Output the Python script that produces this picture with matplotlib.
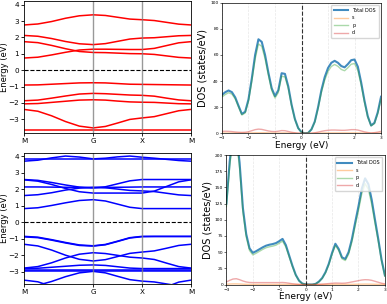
import numpy as np
import matplotlib.pyplot as plt

# ---- band structure data (eV), k-path M-G-X-M ----
k_labels = ['M', 'G', 'X', 'M']
seg_lengths = [np.sqrt(0.5), 0.5, 0.5]
seg_fracs = [[0, .2, .4, .6, .8, 1.0], [.25, .5, .75, 1.0], [.25, .5, .75, 1.0]]

red_bands = [
    [2.76, 2.82, 2.97, 3.17, 3.32, 3.38, 3.34, 3.23, 3.12, 3.08, 3.03, 2.92, 2.81, 2.76],
    [2.12, 2.07, 1.93, 1.75, 1.61, 1.56, 1.62, 1.76, 1.90, 1.96, 1.98, 2.04, 2.10, 2.12],
    [1.74, 1.68, 1.51, 1.31, 1.14, 1.08, 1.07, 1.04, 1.01, 1.00, 0.96, 0.87, 0.78, 0.74],
    [0.74, 0.79, 0.93, 1.09, 1.23, 1.28, 1.28, 1.27, 1.26, 1.26, 1.33, 1.50, 1.67, 1.74],
    [-0.91, -0.90, -0.86, -0.82, -0.78, -0.77, -0.78, -0.82, -0.86, -0.87, -0.88, -0.89, -0.90, -0.91],
    [-1.87, -1.83, -1.71, -1.58, -1.46, -1.42, -1.44, -1.48, -1.52, -1.54, -1.59, -1.71, -1.82, -1.87],
    [-2.06, -2.04, -1.97, -1.90, -1.83, -1.81, -1.83, -1.89, -1.94, -1.96, -1.97, -2.01, -2.05, -2.06],
    [-2.40, -2.51, -2.79, -3.14, -3.42, -3.53, -3.44, -3.23, -3.01, -2.92, -2.84, -2.66, -2.48, -2.40],
    [-3.65] * 14,
]

blue_bands = [
    [3.84] * 14,
    [3.70, 3.76, 3.90, 4.01, 3.95, 3.84, 3.88, 3.96, 4.01, 3.94, 3.88, 3.81, 3.74, 3.70],
    [2.59, 2.54, 2.41, 2.26, 2.13, 2.08, 2.15, 2.33, 2.51, 2.59, 2.59, 2.59, 2.59, 2.59],
    [2.57, 2.49, 2.29, 2.05, 1.85, 1.77, 1.77, 1.77, 1.77, 1.77, 1.89, 2.17, 2.45, 2.57],
    [2.14, 2.14, 2.13, 2.12, 2.11, 2.10, 2.11, 2.12, 2.13, 2.14, 2.14, 2.14, 2.14, 2.14],
    [1.62, 1.67, 1.79, 1.95, 2.07, 2.12, 2.09, 2.01, 1.93, 1.90, 1.86, 1.76, 1.66, 1.62],
    [0.83, 0.88, 1.02, 1.18, 1.32, 1.37, 1.29, 1.10, 0.91, 0.83, 0.83, 0.83, 0.83, 0.83],
    [-0.85, -0.90, -1.05, -1.22, -1.37, -1.42, -1.34, -1.14, -0.93, -0.85, -0.85, -0.85, -0.85, -0.85],
    [-0.88, -0.93, -1.08, -1.25, -1.40, -1.44, -1.36, -1.16, -0.95, -0.87, -0.86, -0.86, -0.86, -0.86],
    [-1.33, -1.43, -1.68, -1.99, -2.24, -2.34, -2.26, -2.07, -1.88, -1.80, -1.73, -1.57, -1.40, -1.33],
    [-2.77, -2.68, -2.45, -2.16, -1.93, -1.84, -1.89, -2.00, -2.11, -2.16, -2.25, -2.47, -2.68, -2.77],
    [-2.80, -2.78, -2.72, -2.66, -2.60, -2.58, -2.61, -2.69, -2.77, -2.80, -2.80, -2.80, -2.80, -2.80],
    [-2.87] * 14,
    [-2.95] * 14,
    [-3.90, -3.81, -3.58, -3.29, -3.06, -2.97, -3.06, -3.27, -3.47, -3.56, -3.61, -3.73, -3.85, -3.90],
    [-3.50, -3.60, -3.88, -4.22, -4.50, -4.60, -4.55, -4.45, -4.35, -4.30, -4.18, -3.90, -3.62, -3.50],
]

# ---- DOS data (states/eV) ----
energy = np.arange(-3.0, 3.0001, 0.125)

top_total = [29.5, 31.5, 32.8, 31.5, 27.5, 21.0, 14.8, 16.5, 26.0, 42.0, 60.0, 72.0, 70.0,
             60.0, 46.5, 34.5, 28.5, 33.0, 46.0, 45.5, 36.0, 22.0, 11.0, 4.0, 0.8, 0.0, 0.3,
             3.0, 9.0, 20.0, 33.0, 43.0, 50.0, 54.0, 55.5, 54.0, 51.5, 50.5, 53.0, 56.0, 56.5,
             51.0, 39.0, 25.0, 13.0, 6.0, 8.0, 16.0, 28.0]
top_s = [0.2, 0.2, 0.2, 0.2, 0.2, 0.1, 0.1, 0.1, 0.2, 0.3, 0.4, 0.4, 0.4, 0.4, 0.3, 0.2, 0.2,
         0.2, 0.3, 0.3, 0.2, 0.1, 0.1, 0.0, 0.0, 0.0, 0.0, 0.0, 0.1, 0.1, 0.2, 0.3, 0.3, 0.3,
         0.3, 0.3, 0.3, 0.3, 0.3, 0.3, 0.3, 0.3, 0.2, 0.2, 0.1, 0.0, 0.1, 0.1, 0.2]
top_p = [27.8, 29.7, 31.1, 30.0, 26.3, 20.1, 14.0, 15.6, 24.6, 39.7, 56.8, 68.4, 66.6, 57.2,
         44.4, 32.9, 27.0, 31.2, 43.6, 43.2, 34.4, 21.1, 10.5, 3.9, 0.8, 0.0, 0.3, 2.9, 8.5,
         19.0, 31.3, 40.7, 47.4, 51.2, 52.7, 51.3, 48.9, 47.9, 50.2, 52.9, 53.4, 48.2, 37.0,
         23.7, 12.3, 5.7, 7.4, 15.0, 26.3]
top_d = [1.5, 1.6, 1.5, 1.3, 1.0, 0.8, 0.7, 0.8, 1.2, 2.0, 2.8, 3.2, 3.0, 2.4, 1.8, 1.4, 1.3,
         1.6, 2.1, 2.0, 1.4, 0.8, 0.4, 0.1, 0.0, 0.0, 0.0, 0.1, 0.4, 0.9, 1.5, 2.0, 2.3, 2.5,
         2.5, 2.4, 2.3, 2.3, 2.5, 2.8, 2.8, 2.5, 1.8, 1.1, 0.6, 0.3, 0.5, 0.9, 1.5]

bot_total = [125, 190, 235, 235, 188, 118, 78, 56, 49, 51.5, 54.5, 57.5, 60, 61.5, 62.5, 64,
             67, 70.5, 61, 45, 29, 15, 6, 1.5, 0.3, 0.0, 0.0, 1.0, 4.5, 10, 19, 32, 49, 63,
             55, 42, 39.5, 50, 70, 96, 121, 148, 164, 155, 131, 100, 70, 38, 14]
bot_s = [0.5, 0.8, 1.0, 1.0, 0.8, 0.5, 0.3, 0.2, 0.2, 0.2, 0.2, 0.2, 0.2, 0.2, 0.2, 0.2, 0.2,
         0.3, 0.2, 0.2, 0.1, 0.1, 0.0, 0.0, 0.0, 0.0, 0.0, 0.0, 0.0, 0.1, 0.1, 0.1, 0.2, 0.3,
         0.2, 0.2, 0.2, 0.2, 0.3, 0.4, 0.5, 0.6, 0.7, 0.6, 0.5, 0.4, 0.3, 0.2, 0.1]
bot_p = [120.5, 182.7, 225.5, 225.0, 179.7, 112.0, 73.7, 52.6, 45.8, 48.3, 51.3, 54.3, 56.8,
         58.3, 59.3, 60.8, 63.8, 67.0, 58.0, 42.8, 27.7, 14.3, 5.8, 1.4, 0.3, 0.0, 0.0, 0.9,
         4.2, 9.3, 17.9, 30.4, 46.8, 60.4, 52.6, 39.8, 37.1, 46.8, 65.7, 90.6, 114.5, 140.4,
         155.8, 147.1, 124.0, 94.6, 66.2, 35.8, 12.9]
bot_d = [4.0, 6.5, 8.5, 9.0, 7.5, 5.5, 4.0, 3.2, 3.0, 3.0, 3.0, 3.0, 3.0, 3.0, 3.0, 3.0, 3.0,
         3.2, 2.8, 2.0, 1.2, 0.6, 0.2, 0.1, 0.0, 0.0, 0.0, 0.1, 0.3, 0.6, 1.0, 1.5, 2.0, 2.3,
         2.2, 2.0, 2.2, 3.0, 4.0, 5.0, 6.0, 7.0, 7.5, 7.3, 6.5, 5.0, 3.5, 2.0, 1.0]


def kpath():
    k = []
    start = 0.0
    for L, fr in zip(seg_lengths, seg_fracs):
        k += [start + f * L for f in fr]
        start += L
    return np.array(k)


k = kpath()
k_ticks = np.concatenate([[0], np.cumsum(seg_lengths)])


def draw_bands(ax, bands, color, ylim):
    for b in bands:
        ax.plot(k, b, color=color, lw=1.1)
    ax.axhline(0, color='k', ls='--', lw=0.8)
    for x in k_ticks[1:-1]:
        ax.axvline(x, color='gray', lw=1.0, alpha=0.8)
    ax.set_xticks(k_ticks, k_labels)
    ax.set_xlim(k_ticks[0], k_ticks[-1])
    ax.set_ylim(ylim)
    ax.set_yticks(range(-3, 5))
    ax.set_ylabel('Energy (eV)', fontsize=6)
    # keep the label inside the figure's left edge, clear of tick labels
    ax.yaxis.set_label_coords(-0.088, 0.5)
    ax.tick_params(labelsize=5.2, length=2.5, width=0.6, pad=1)
    for sp in ax.spines.values():
        sp.set_linewidth(0.6)


def draw_dos(ax, total, s, p, d, ymax, ystep):
    ax.plot(energy, total, color='tab:blue', lw=1.5, alpha=0.85, label='Total DOS')
    ax.plot(energy, s, color='tab:orange', lw=1.0, alpha=0.4, label='s')
    ax.plot(energy, p, color='tab:green', lw=1.0, alpha=0.4, label='p')
    ax.plot(energy, d, color='tab:red', lw=1.0, alpha=0.4, label='d')
    ax.axvline(0, color='k', ls='--', lw=0.8, alpha=0.8)
    ax.grid(True, axis='x', alpha=0.3, ls='--', lw=0.5)
    ax.set_xlim(-3, 3)
    ax.set_ylim(0, ymax)
    ax.set_xticks(range(-3, 4))
    ax.set_yticks(np.arange(0, ymax + 1, ystep))
    ax.set_xlabel('Energy (eV)', fontsize=6.5, labelpad=0.5)
    ax.set_ylabel('DOS (states/eV)', fontsize=7, labelpad=2)
    ax.tick_params(labelsize=3.2, length=1.5, width=0.4, pad=0.8)
    for sp in ax.spines.values():
        sp.set_linewidth(0.5)
    ax.legend(loc='upper right', fontsize=3.5, handlelength=3, borderpad=0.6,
              labelspacing=0.5, framealpha=0.8)


fig = plt.figure(figsize=(3.87, 3.04), dpi=100)
ax_tl = fig.add_axes([0.062, 0.5625, 0.4315, 0.434])
ax_bl = fig.add_axes([0.062, 0.066, 0.4315, 0.431])
ax_tr = fig.add_axes([0.5736, 0.5615, 0.411, 0.4296])
ax_br = fig.add_axes([0.585, 0.064, 0.4096, 0.426])

draw_bands(ax_tl, red_bands, 'red', (-3.84, 4.22))
draw_bands(ax_bl, blue_bands, 'blue', (-3.73, 4.2))
draw_dos(ax_tr, top_total, top_s, top_p, top_d, 100, 20)
draw_dos(ax_br, bot_total, bot_s, bot_p, bot_d, 200, 25)

fig.savefig('out.png', dpi=100)
